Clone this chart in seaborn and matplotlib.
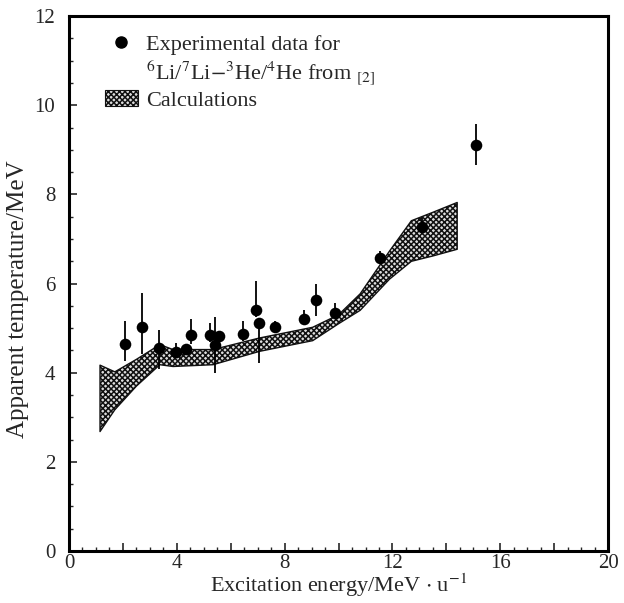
import numpy as np
import pandas as pd
import matplotlib
matplotlib.use("Agg")
import matplotlib.pyplot as plt
from matplotlib.lines import Line2D
from matplotlib.patches import Patch
import seaborn as sns

# experimental data
exp_x = [2.09, 2.71, 3.33, 3.96, 4.33, 4.53, 5.24, 5.43, 5.55, 6.45, 6.94, 7.06, 7.64, 8.72, 9.17, 9.87, 11.55, 13.1, 15.1]
exp_y = [4.64, 5.03, 4.56, 4.46, 4.54, 4.84, 4.84, 4.63, 4.82, 4.86, 5.41, 5.12, 5.02, 5.20, 5.64, 5.34, 6.57, 7.28, 9.12]
err_lo = [0.38, 0.62, 0.48, 0.10, 0.10, 0.20, 0.15, 0.64, 0.10, 0.15, 0.15, 0.90, 0.10, 0.10, 0.37, 0.10, 0.10, 0.10, 0.47]
err_hi = [0.52, 0.77, 0.39, 0.20, 0.10, 0.36, 0.28, 0.62, 0.10, 0.30, 0.65, 0.10, 0.15, 0.20, 0.36, 0.23, 0.16, 0.20, 0.47]

# calculation band
band_x = [1.15, 1.7, 2.5, 3.37, 3.86, 5.34, 7.07, 9.04, 10.0, 10.8, 11.89, 12.7, 13.5, 14.4]
band_hi = [4.17, 4.02, 4.30, 4.63, 4.52, 4.52, 4.78, 5.02, 5.30, 5.77, 6.73, 7.41, 7.60, 7.82]
band_lo = [2.68, 3.17, 3.70, 4.18, 4.14, 4.18, 4.48, 4.72, 5.10, 5.40, 6.10, 6.50, 6.62, 6.77]

x_ticks = [0, 4, 8, 12, 16, 20]
y_ticks = [0, 2, 4, 6, 8, 10, 12]

sns.set_theme(style="ticks")
plt.rcParams['font.family'] = ['Liberation Serif', 'DejaVu Serif']
plt.rcParams['mathtext.fontset'] = 'stix'
plt.rcParams['hatch.linewidth'] = 1.1
plt.rcParams['hatch.color'] = '#111111'

fig = plt.figure(figsize=(6.24, 6.03), dpi=100)
ax = fig.add_axes([0.1106, 0.0862, 0.864, 0.887])

ax.fill_between(band_x, band_lo, band_hi, facecolor="#dddddd", edgecolor="#111111",
                hatch="xxxxxx", linewidth=1.0)

df = pd.DataFrame({"x": exp_x, "y": exp_y})
ax.errorbar(exp_x, exp_y, yerr=[err_lo, err_hi], fmt="none", ecolor="black",
            elinewidth=1.3, capsize=0)
sns.scatterplot(data=df, x="x", y="y", ax=ax, color="black", s=70,
                edgecolor="black", linewidth=0, zorder=5)

ax.set_xlim(0, 20)
ax.set_ylim(0, 12)
ax.set_xticks([0, 2, 4, 6, 8, 10, 12, 14, 16, 18, 20])
ax.set_xticklabels([str(v) if v in x_ticks else "" for v in range(0, 21, 2)])
ax.set_yticks(y_ticks)
ax.set_yticklabels([str(v) for v in y_ticks])
ax.xaxis.set_minor_locator(matplotlib.ticker.MultipleLocator(0.5))
ax.yaxis.set_minor_locator(matplotlib.ticker.MultipleLocator(0.5))
ax.tick_params(which="major", direction="in", length=6, width=1.2, labelsize=15,
               top=False, right=False, pad=10)
ax.tick_params(axis="x", which="major", pad=2)
ax.tick_params(which="minor", direction="in", length=3, width=1.0, top=False, right=False)
for sp in ax.spines.values():
    sp.set_linewidth(2.2)
    sp.set_color("black")

ax.set_xlabel(r"Excitation energy/MeV $\cdot$ u$^{-1}$", fontsize=16, labelpad=-1)
ax.set_ylabel("Apparent temperature/MeV", fontsize=18)
ax.yaxis.set_label_coords(-0.075, 0.47)

handles = [Line2D([], [], marker="o", color="black", linestyle="none", markersize=8),
           Line2D([], [], linestyle="none"),
           Patch(facecolor="#dddddd", edgecolor="#111111", hatch="xxxxxx", linewidth=0.8)]
labels = ["Experimental data for",
          r"$^6$Li/$^7$Li$-^3$He/$^4$He from $_{[2]}$",
          "Calculations"]
leg = ax.legend(handles, labels, loc="upper left", bbox_to_anchor=(0.037, 0.995),
                frameon=False, fontsize=16, handlelength=1.5, handletextpad=0.35,
                labelspacing=0.15, borderaxespad=0.3)

sns.despine(ax=ax, top=False, right=False)
fig.savefig("out.png", dpi=100)
